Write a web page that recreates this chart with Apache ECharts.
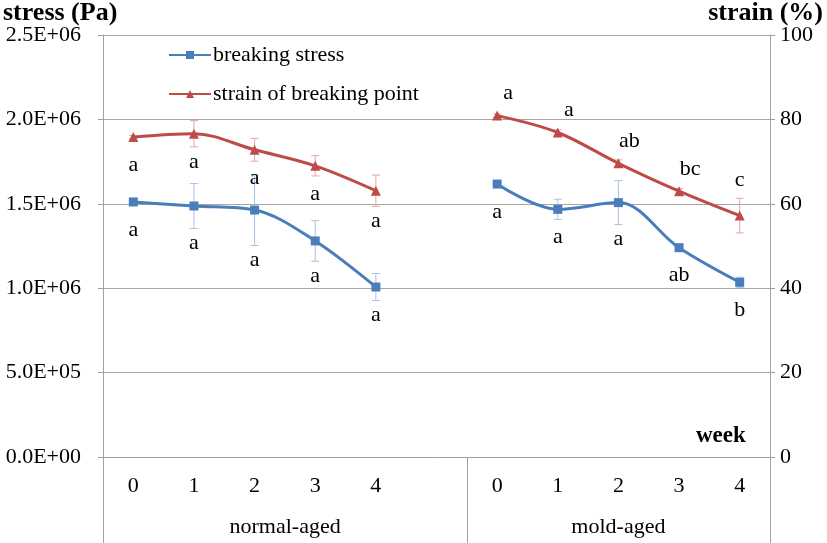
<!DOCTYPE html>
<html><head><meta charset="utf-8">
<script src="https://cdn.jsdelivr.net/npm/echarts@6/dist/echarts.min.js"></script>
<style>html,body{margin:0;padding:0;background:#fff}#c{width:827px;height:543px}</style>
</head><body><div id="c"></div>
<script>
// ---- data ----
const weeks = ['0','1','2','3','4','','0','1','2','3','4'];
const groupNames = ['normal-aged','mold-aged'];
const groupSizes = [6,5];
const stress    = [1.511e6, 1.487e6, 1.463e6, 1.280e6, 1.007e6, null, 1.617e6, 1.467e6, 1.507e6, 1.240e6, 1.035e6];
const stressErr = [0.005e6, 0.133e6, 0.210e6, 0.120e6, 0.080e6, null, 0.010e6, 0.060e6, 0.130e6, 0.020e6, 0.030e6];
const strain    = [75.8, 76.6, 72.8, 69.0, 63.1, null, 80.9, 76.9, 69.6, 63.0, 57.2];
const strainErr = [0.4, 3.1, 2.7, 2.4, 3.7, null, 0.4, 0.6, 0.8, 0.6, 4.1];
const stressLetters = ['a','a','a','a','a','','a','a','a','ab','b'];
const strainLetters = ['a','a','a','a','a','','a','a','ab','bc','c'];
const stressTicks = [0, 5e5, 1e6, 1.5e6, 2e6, 2.5e6];
const strainTicks = [0, 20, 40, 60, 80, 100];

// ---- helpers ----
const FONT = '"Liberation Serif", "Times New Roman", serif';
const FS = 22;
const BLUE = '#4a7ebb', RED = '#be4b48';
const BLUE_ERR = '#a9c2e2', RED_ERR = '#e3a7a6';
const AXIS = '#a0a0a0';

function sci(v){
  const parts = Number(v).toExponential(1).split('e');
  const n = parseInt(parts[1], 10);
  return parts[0] + 'E' + (n < 0 ? '-' : '+') + String(Math.abs(n)).padStart(2, '0');
}
function triples(vals, errs){
  const out = [];
  vals.forEach((v, i) => { if (v != null) out.push([i, v, errs[i]]); });
  return out;
}
function errRender(color){
  return function(params, api){
    const x = api.value(0), v = api.value(1), e = api.value(2);
    const t = api.coord([x, v + e]), b = api.coord([x, v - e]);
    const c = 4, st = {stroke: color, lineWidth: 1};
    return {type: 'group', children: [
      {type: 'line', shape: {x1: t[0], y1: t[1], x2: b[0], y2: b[1]}, style: st},
      {type: 'line', shape: {x1: t[0]-c, y1: t[1], x2: t[0]+c, y2: t[1]}, style: st},
      {type: 'line', shape: {x1: b[0]-c, y1: b[1], x2: b[0]+c, y2: b[1]}, style: st}
    ]};
  };
}
function letterRender(letters, kind){
  return function(params, api){
    const i = api.value(0), v = api.value(1), e = api.value(2);
    const p = api.coord([i, v]), t = api.coord([i, v + e]), b = api.coord([i, v - e]);
    const inMold = i >= groupSizes[0];
    let x = p[0], y;
    if (kind === 'strain' && inMold) {
      y = Math.min(p[1] - 22, t[1] - 18);
      if (p[1] - t[1] < 6) x += 11;
    } else {
      y = Math.max(p[1] + 28, b[1] + 15);
    }
    return {type: 'text', x: x, y: y, style: {text: letters[i], font: FS + 'px ' + FONT, fill: '#000', align: 'center', verticalAlign: 'middle'}};
  };
}
const groupAxisLabels = weeks.map((w, i) => {
  if (i === Math.floor((groupSizes[0]-1)/2)) return '{s|' + groupNames[0] + '}';
  if (i === groupSizes[0] + Math.floor(groupSizes[1]/2)) return groupNames[1];
  return '';
});

const chart = echarts.init(document.getElementById('c'), null, {renderer: 'canvas'});
chart.setOption({
  animation: false,
  textStyle: {fontFamily: FONT},
  grid: {left: 103, right: 57, top: 35, bottom: 86},
  legend: {
    orient: 'vertical', left: 163, top: 39, itemWidth: 42, itemHeight: 10, itemGap: 17,
    textStyle: {fontFamily: FONT, fontSize: FS, color: '#000', padding: [0, 0, 0, -3]},
    data: ['breaking stress', 'strain of breaking point']
  },
  xAxis: [{
    type: 'category', data: weeks, boundaryGap: true, position: 'bottom',
    axisLine: {show: true, lineStyle: {color: AXIS}},
    axisTick: {show: true, length: 86, lineStyle: {color: AXIS},
      interval: function(index){ return index === 0 || index === groupSizes[0]; }},
    axisLabel: {interval: 0, margin: 18, fontFamily: FONT, fontSize: FS, color: '#000'}
  }, {
    type: 'category', data: groupAxisLabels, boundaryGap: true, position: 'bottom',
    axisLine: {show: false}, axisTick: {show: false},
    axisLabel: {interval: 0, margin: 59, fontFamily: FONT, fontSize: FS, color: '#000',
      rich: {s: {fontFamily: FONT, fontSize: FS, color: '#000', padding: [0, 0, 0, 61]}}}
  }],
  yAxis: [{
    type: 'value', min: stressTicks[0], max: stressTicks[stressTicks.length-1], interval: stressTicks[1]-stressTicks[0],
    axisLine: {show: true, lineStyle: {color: AXIS}},
    axisTick: {show: true, length: 5, lineStyle: {color: AXIS}},
    splitLine: {show: true, lineStyle: {color: '#a6a6a6', width: 1}},
    axisLabel: {formatter: sci, margin: 22, fontFamily: FONT, fontSize: FS, color: '#000'}
  }, {
    type: 'value', min: strainTicks[0], max: strainTicks[strainTicks.length-1], interval: strainTicks[1]-strainTicks[0],
    position: 'right',
    axisLine: {show: true, lineStyle: {color: AXIS}},
    axisTick: {show: true, length: 5, lineStyle: {color: AXIS}},
    splitLine: {show: false},
    axisLabel: {margin: 10, fontFamily: FONT, fontSize: FS, color: '#000'}
  }],
  graphic: [
    {type: 'text', left: 3, top: 0, style: {text: 'stress (Pa)', font: 'bold 26px ' + FONT, fill: '#000'}},
    {type: 'text', right: 4, top: 0, style: {text: 'strain (%)', font: 'bold 26px ' + FONT, fill: '#000'}},
    {type: 'text', left: 696, top: 425, style: {text: 'week', font: 'bold 23px ' + FONT, fill: '#000'}}
  ],
  series: [
    {type: 'custom', name: 'stressErr', z: 1, yAxisIndex: 0, renderItem: errRender(BLUE_ERR), data: triples(stress, stressErr), silent: true},
    {type: 'custom', name: 'strainErr', z: 1, yAxisIndex: 1, renderItem: errRender(RED_ERR), data: triples(strain, strainErr), silent: true},
    {type: 'line', name: 'breaking stress', yAxisIndex: 0, data: stress, smooth: 0.35, connectNulls: false,
      symbol: 'rect', symbolSize: 9, z: 3,
      lineStyle: {color: BLUE, width: 3}, itemStyle: {color: BLUE}},
    {type: 'line', name: 'strain of breaking point', yAxisIndex: 1, data: strain, smooth: 0.35, connectNulls: false,
      symbol: 'triangle', symbolSize: 10, z: 3,
      lineStyle: {color: RED, width: 3}, itemStyle: {color: RED}},
    {type: 'custom', name: 'stressLetters', z: 4, yAxisIndex: 0, clip: false, renderItem: letterRender(stressLetters, 'stress'), data: triples(stress, stressErr), silent: true},
    {type: 'custom', name: 'strainLetters', z: 4, yAxisIndex: 1, clip: false, renderItem: letterRender(strainLetters, 'strain'), data: triples(strain, strainErr), silent: true}
  ]
});
</script>
</body></html>
